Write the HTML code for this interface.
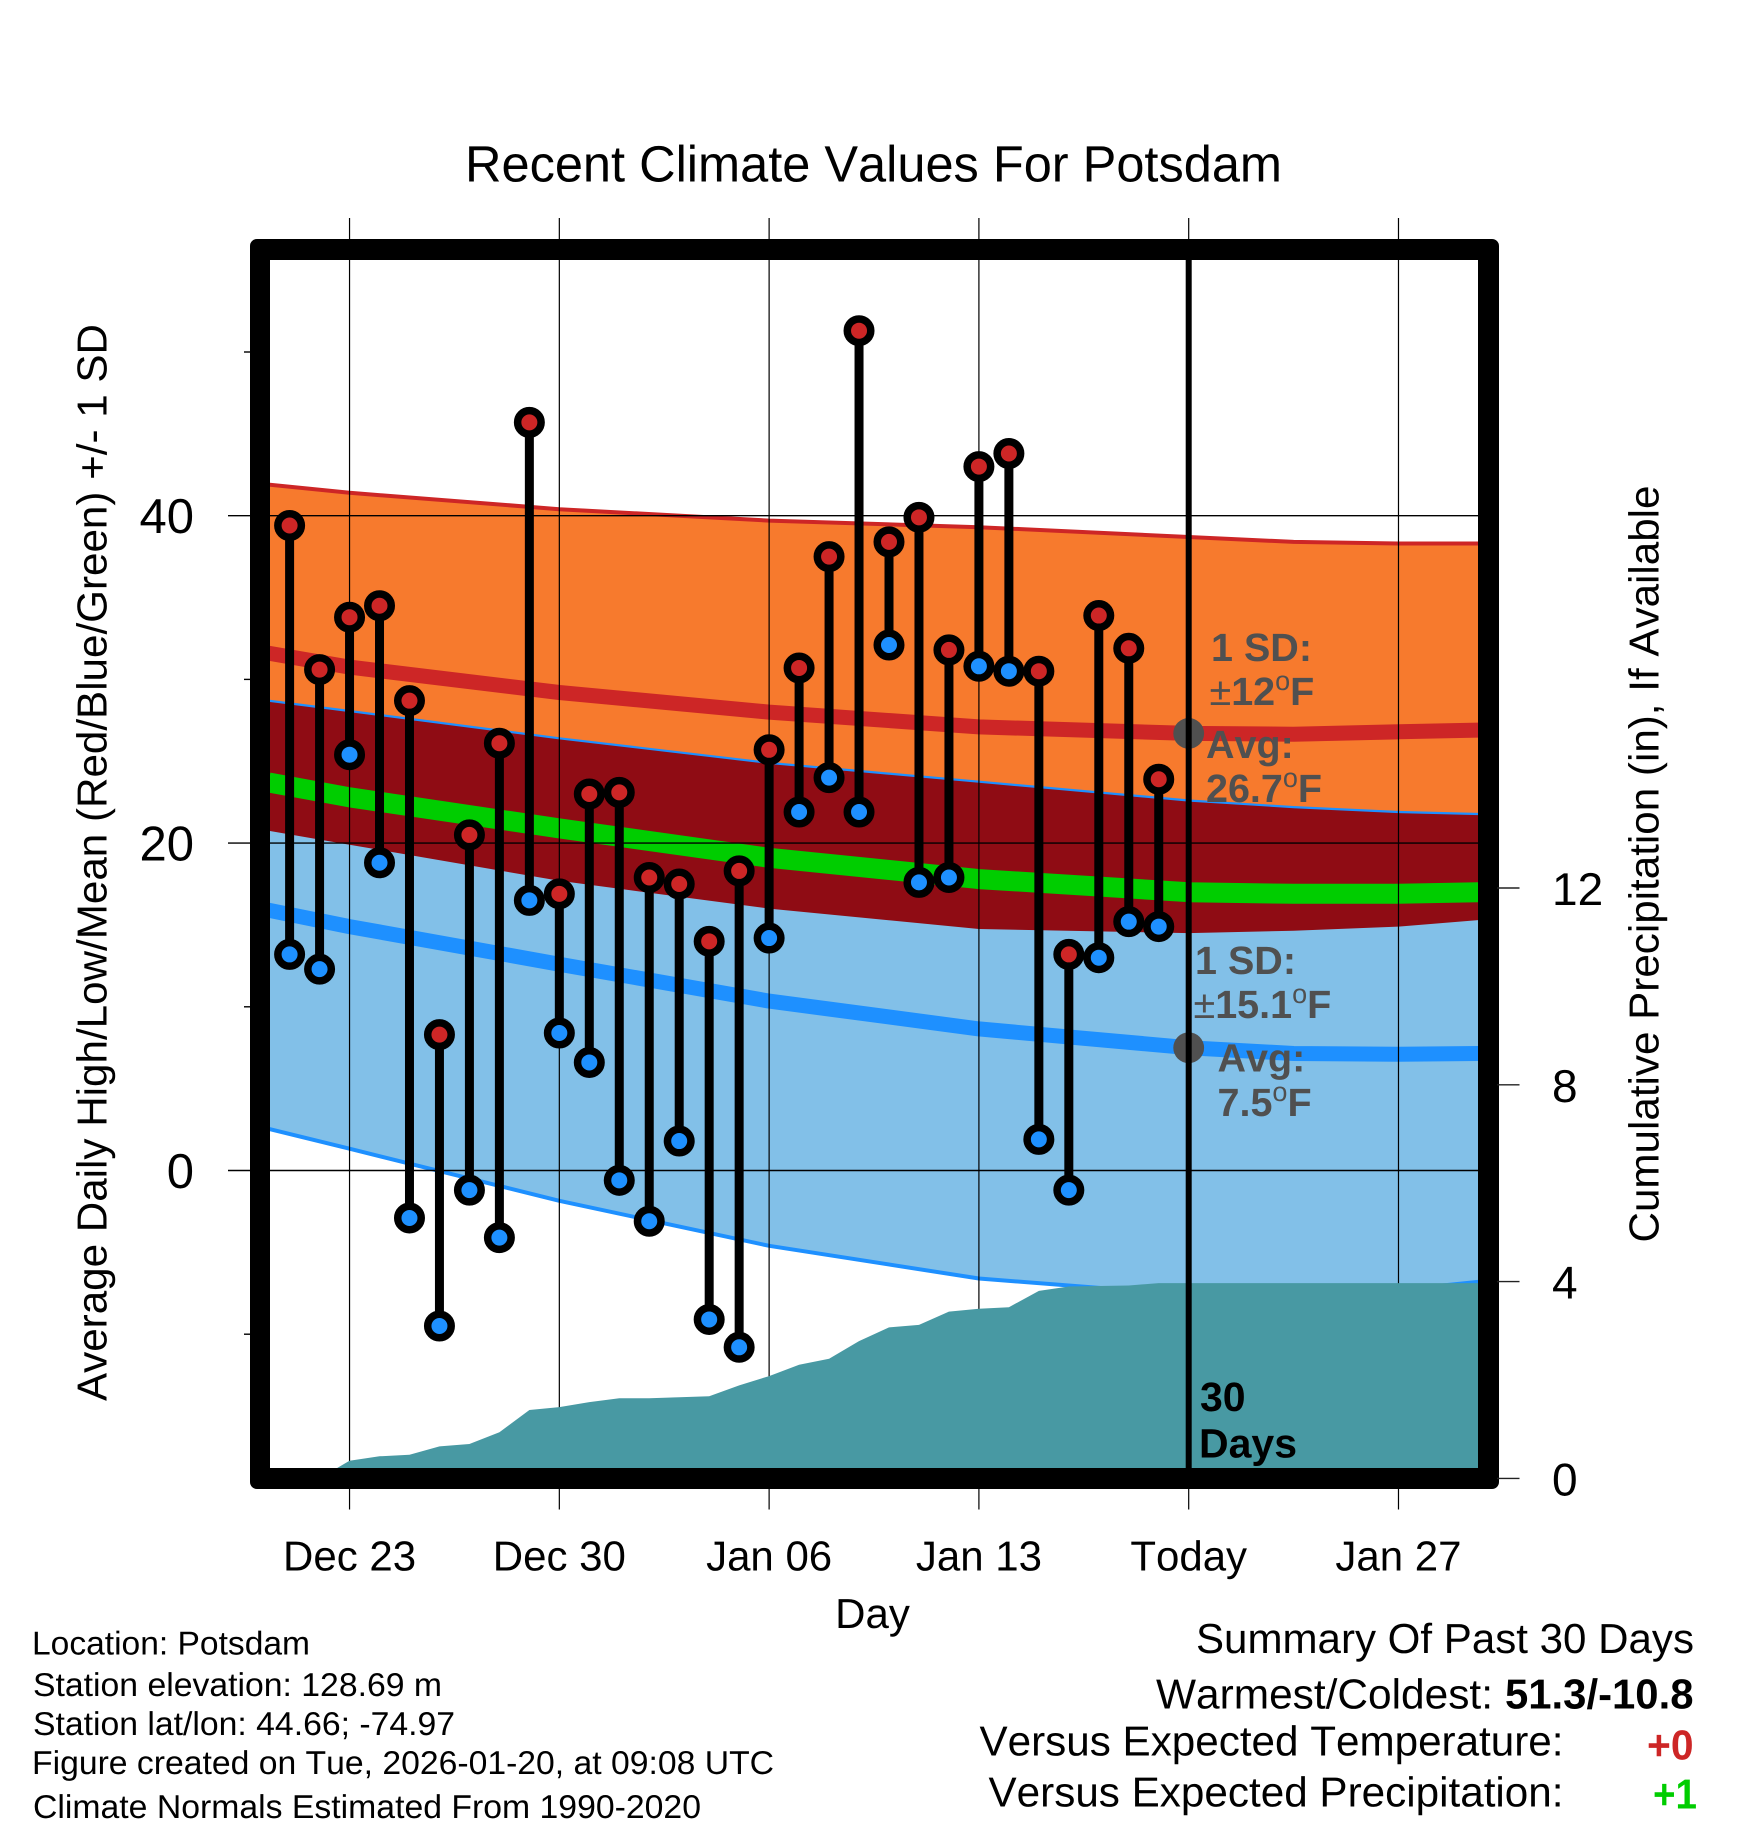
<!DOCTYPE html>
<html lang="en">
<head>
<meta charset="utf-8">
<title>Recent Climate Values For Potsdam</title>
<style>
html,body{margin:0;padding:0;background:#fff;}
svg{display:block;}
text{font-family:"Liberation Sans",Arial,sans-serif;fill:#000;font-kerning:none;text-rendering:geometricPrecision;}
.note{font-weight:bold;fill:#505050;font-size:39.5px;}
.deg{font-weight:normal;font-size:27px;}
.pm{font-weight:normal;}
</style>
</head>
<body>
<svg id="chart" xmlns="http://www.w3.org/2000/svg" width="1748" height="1828" viewBox="0 0 1748 1828">
  <defs>
    <clipPath id="plot-clip"><rect x="270" y="260" width="1208" height="1208"/></clipPath>
  </defs>
  <rect x="0" y="0" width="1748" height="1828" fill="#fff"/>
  <text x="873.5" y="181.7" font-size="51" text-anchor="middle" textLength="817" lengthAdjust="spacingAndGlyphs">Recent Climate Values For Potsdam</text>

  <g id="bands" clip-path="url(#plot-clip)"></g>
  <g id="grid"></g>
  <g id="precip" clip-path="url(#plot-clip)"></g>
  <g id="today"></g>
  <g id="stems"></g>
  <path fill="#000" fill-rule="evenodd" d="M257 239H1492a7 7 0 0 1 7 7V1482a7 7 0 0 1-7 7H257a7 7 0 0 1-7-7V246a7 7 0 0 1 7-7ZM270 260V1468H1478V260Z"/>
  <g id="axes"></g>

  <text x="872.5" y="1628" font-size="42" text-anchor="middle">Day</text>
  <text transform="translate(106.5,862.5) rotate(-90)" font-size="42" text-anchor="middle" textLength="1077" lengthAdjust="spacingAndGlyphs">Average Daily High/Low/Mean (Red/Blue/Green) +/- 1 SD</text>
  <text transform="translate(1658.5,864) rotate(-90)" font-size="42" text-anchor="middle" textLength="757" lengthAdjust="spacingAndGlyphs">Cumulative Precipitation (in), If Available</text>

  <g>
    <text class="note" x="1211" y="661">1 SD:</text>
    <text class="note" x="1209.5" y="705"><tspan class="pm">±</tspan>12<tspan class="deg" dy="-15">o</tspan><tspan dy="15">F</tspan></text>
    <text class="note" x="1206" y="758">Avg:</text>
    <text class="note" x="1206" y="802">26.7<tspan class="deg" dy="-15">o</tspan><tspan dy="15">F</tspan></text>
    <text class="note" x="1195" y="974">1 SD:</text>
    <text class="note" x="1193.5" y="1018"><tspan class="pm">±</tspan>15.1<tspan class="deg" dy="-15">o</tspan><tspan dy="15">F</tspan></text>
    <text class="note" x="1217.5" y="1071.7">Avg:</text>
    <text class="note" x="1217.5" y="1116">7.5<tspan class="deg" dy="-15">o</tspan><tspan dy="15">F</tspan></text>
    <text x="1200" y="1411" font-size="41" font-weight="bold">30</text>
    <text x="1199" y="1457.5" font-size="41" font-weight="bold">Days</text>
  </g>

  <g font-size="33">
    <text x="32" y="1654.5" textLength="278" lengthAdjust="spacingAndGlyphs">Location: Potsdam</text>
    <text x="33" y="1696" textLength="409" lengthAdjust="spacingAndGlyphs">Station elevation: 128.69 m</text>
    <text x="33" y="1735" textLength="422" lengthAdjust="spacingAndGlyphs">Station lat/lon: 44.66; -74.97</text>
    <text x="32" y="1774" textLength="742" lengthAdjust="spacingAndGlyphs">Figure created on Tue, 2026-01-20, at 09:08 UTC</text>
    <text x="33" y="1818" textLength="668" lengthAdjust="spacingAndGlyphs">Climate Normals Estimated From 1990-2020</text>
  </g>

  <g font-size="42">
    <text x="1196" y="1653" textLength="498" lengthAdjust="spacingAndGlyphs">Summary Of Past 30 Days</text>
    <text x="1156" y="1708.5" textLength="337" lengthAdjust="spacingAndGlyphs">Warmest/Coldest:</text>
    <text x="1505" y="1708.5" font-weight="bold" textLength="188.5" lengthAdjust="spacingAndGlyphs">51.3/-10.8</text>
    <text x="979.5" y="1755.5" textLength="584" lengthAdjust="spacingAndGlyphs">Versus Expected Temperature:</text>
    <text x="1647" y="1759.5" font-weight="bold" style="fill:#cd2626" textLength="46.5" lengthAdjust="spacingAndGlyphs">+0</text>
    <text x="988.5" y="1806.5" textLength="575" lengthAdjust="spacingAndGlyphs">Versus Expected Precipitation:</text>
    <text x="1653" y="1808.5" font-weight="bold" style="fill:#00cd00" textLength="44" lengthAdjust="spacingAndGlyphs">+1</text>
  </g>
</svg>

<script>
// Daily observations (days relative to today)
const obsDays = [-30,-29,-28,-27,-26,-25,-24,-23,-22,-21,-20,-19,-18,-17,-16,-15,-14,-13,-12,-11,-10,-9,-8,-7,-6,-5,-4,-3,-2,-1];
const dailyHigh = [39.4,30.6,33.8,34.5,28.7,8.3,20.5,26.1,45.7,16.9,23.0,23.1,17.9,17.5,14.0,18.3,25.7,30.7,37.5,51.3,38.4,39.9,31.8,43.0,43.8,30.5,13.2,33.9,31.9,23.9];
const dailyLow = [13.2,12.3,25.4,18.8,-2.9,-9.5,-1.2,-4.1,16.5,8.4,6.6,-0.6,-3.1,1.8,-9.1,-10.8,14.2,21.9,24.0,21.9,32.1,17.6,17.9,30.8,30.5,1.9,-1.2,13.0,15.2,14.9];

// Climate normals
const normalDays = [-30.7,-28,-21,-14,-7,0,3.5,7,9.7];
const highUpper = [41.9,41.4,40.4,39.7,39.3,38.7,38.4,38.3,38.3];
const highMean = [31.6,30.75,29.2,28.0,27.1,26.7,26.65,26.8,26.9];
const highLower = [20.75,19.9,17.7,16.0,14.75,14.5,14.65,14.9,15.3];
const meanMean = [23.7,22.8,20.9,19.1,17.8,17.0,16.9,16.9,17.0];
const lowUpper = [28.7,28.07,26.4,24.9,23.75,22.6,22.2,21.9,21.78];
const lowMean = [15.9,14.9,12.6,10.35,8.65,7.5,7.15,7.1,7.15];
const lowLower = [2.55,1.33,-1.85,-4.6,-6.6,-7.6,-7.6,-7.3,-6.8];

// Cumulative precipitation (inches)
const precipDays = [-29,-28,-27,-26,-25,-24,-23,-22,-21,-20,-19,-18,-17,-16,-15,-14,-13,-12,-11,-10,-9,-8,-7,-6,-5,-4,-3,-2,-1,0,9.7];
const precipValues = [0,0.36,0.45,0.48,0.65,0.70,0.94,1.39,1.45,1.55,1.63,1.63,1.65,1.67,1.89,2.08,2.31,2.43,2.79,3.07,3.12,3.39,3.45,3.48,3.81,3.90,3.91,3.92,3.97,3.97,3.97];

// Today markers
const todayMeans = [26.7,7.5];

// Axis ticks
const xTickDays = [-28,-21,-14,-7,0,7];
const xTickLabels = ["Dec 23","Dec 30","Jan 06","Jan 13","Today","Jan 27"];
const yMajorTicks = [0,20,40];
const yMinorTicks = [-10,10,30,50];
const precipTicks = [0,4,8,12];

const SVG_NS = "http://www.w3.org/2000/svg";
const xScale = d => 1188.7 + 29.97 * d;
const yScale = v => 1170.5 - 16.37 * v;
const pScale = p => 1478.4 - 49.2 * p;

function make(tag, attrs, parent) {
  const el = document.createElementNS(SVG_NS, tag);
  for (const k in attrs) el.setAttribute(k, attrs[k]);
  parent.appendChild(el);
  return el;
}
const linePts = (days, vals) => days.map((d, i) => xScale(d).toFixed(1) + "," + yScale(vals[i]).toFixed(1));
const bandPts = (days, top, bot) => linePts(days, top).concat(linePts(days, bot).reverse()).join(" ");

const bands = document.getElementById("bands");
const grid = document.getElementById("grid");
const precip = document.getElementById("precip");
const today = document.getElementById("today");
const stems = document.getElementById("stems");
const axes = document.getElementById("axes");

// Bands
const orange = make("polygon", {points: bandPts(normalDays, highUpper, highLower), fill: "#f77a2d"}, bands);


const skyBand = make("polygon", {points: bandPts(normalDays, lowUpper, lowLower), fill: "#82c0e8"}, bands);


const overlap = make("polygon", {points: bandPts(normalDays, lowUpper, highLower), fill: "#8f0c14"}, bands);



function curve(vals, color, width) {
  return make("polyline", {points: linePts(normalDays, vals).join(" "), fill: "none", stroke: color, "stroke-width": width, "stroke-linejoin": "round"}, bands);
}
const highTop = curve(highUpper, "#cd2626", 4);


const lowTop = curve(lowUpper, "#1e90ff", 2.2);


const lowBottom = curve(lowLower, "#1e90ff", 4);


const highAvg = curve(highMean, "#cd2626", 15);


const lowAvg = curve(lowMean, "#1e90ff", 15);


const meanAvg = curve(meanMean, "#00cd00", 20);



// Grid and ticks
xTickDays.forEach((d, i) => {
  const gl = make("line", {x1: xScale(d), x2: xScale(d), y1: 218, y2: 1509.5, stroke: "#000", "stroke-width": 1.2}, grid);
  
  
  const lb = make("text", {x: xScale(d), y: 1570.7, "font-size": 42, "text-anchor": "middle"}, axes);
  
  
  lb.textContent = xTickLabels[i];
});
yMajorTicks.forEach(v => {
  const gl = make("line", {x1: 228, x2: 1478, y1: yScale(v), y2: yScale(v), stroke: "#000", "stroke-width": 1.4}, grid);
  
  
  const lb = make("text", {x: 194, y: yScale(v) + 17.5, "font-size": 49, "text-anchor": "end"}, axes);
  
  
  lb.textContent = String(v);
});
yMinorTicks.forEach(v => {
  const tk = make("line", {x1: 244, x2: 252, y1: yScale(v), y2: yScale(v), stroke: "#000", "stroke-width": 1.4}, grid);
  
  
});
precipTicks.forEach(p => {
  const tk = make("line", {x1: 1497, x2: 1519.5, y1: pScale(p), y2: pScale(p), stroke: "#222", "stroke-width": 1.4}, axes);
  
  
  const lb = make("text", {x: 1552, y: pScale(p) + 17, "font-size": 46}, axes);
  
  
  lb.textContent = String(p);
});

// Precipitation area
const lastDay = precipDays[precipDays.length - 1];
const precipPts = precipDays.map((d, i) => xScale(d).toFixed(1) + "," + pScale(precipValues[i]).toFixed(1));
precipPts.push(xScale(lastDay).toFixed(1) + "," + pScale(0));
precipPts.push(xScale(precipDays[0]).toFixed(1) + "," + pScale(0));
const area = make("polygon", {points: precipPts.join(" "), fill: "#4899a3"}, precip);



// Today markers
todayMeans.forEach(v => {
  const dot = make("circle", {cx: xScale(0), cy: yScale(v), r: 15.4, fill: "#505050"}, today);
  
  
});
const todayLine = make("line", {x1: xScale(0), x2: xScale(0), y1: 260, y2: 1468, stroke: "#000", "stroke-width": 6}, today);



// Stems and points
obsDays.forEach((d, i) => {
  const x = xScale(d);
  const stem = make("line", {x1: x, x2: x, y1: yScale(dailyHigh[i]), y2: yScale(dailyLow[i]), stroke: "#000", "stroke-width": 9}, stems);
  
  
  const lo = make("circle", {cx: x, cy: yScale(dailyLow[i]), r: 11.75, fill: "#1e90ff", stroke: "#000", "stroke-width": 7.5}, stems);
  
  
  const hi = make("circle", {cx: x, cy: yScale(dailyHigh[i]), r: 11.75, fill: "#cd2626", stroke: "#000", "stroke-width": 7.5}, stems);
  
  
});
</script>
</body>
</html>
